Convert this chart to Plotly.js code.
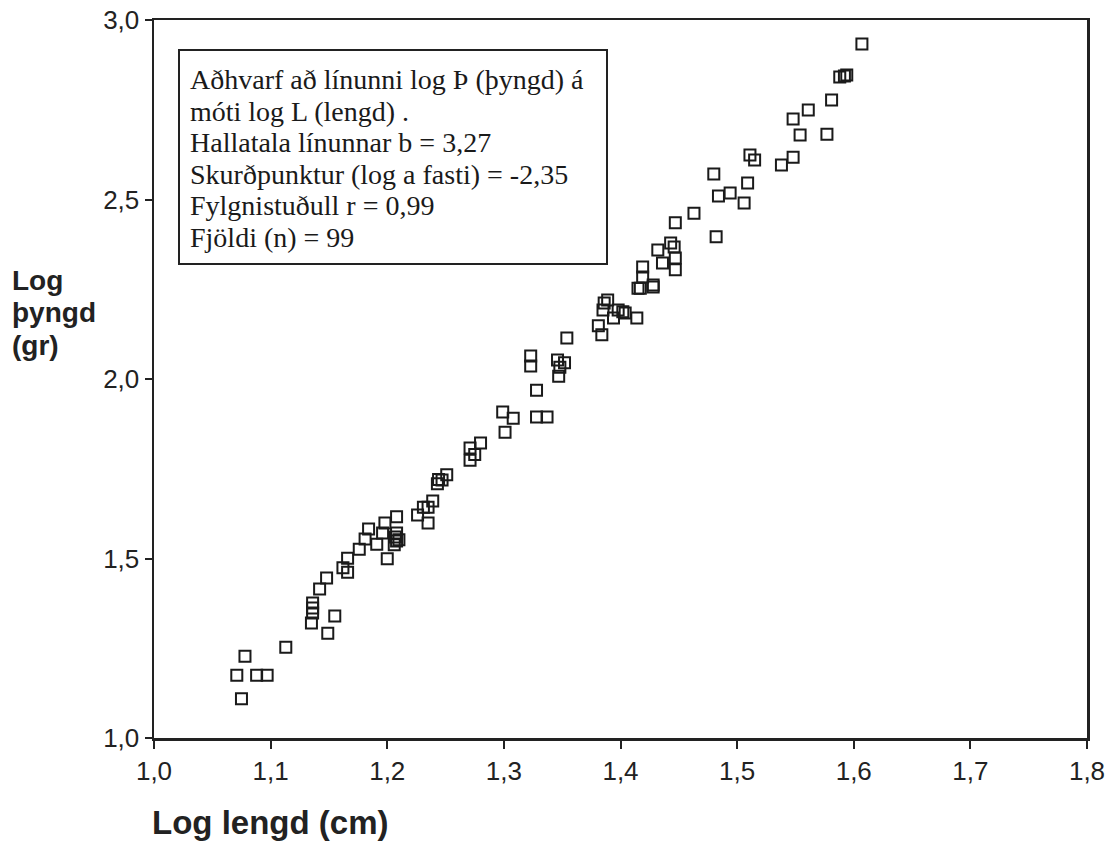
<!DOCTYPE html>
<html>
<head>
<meta charset="utf-8">
<script src="https://cdn.plot.ly/plotly-3.0.1.min.js"></script>
<style>html,body{margin:0;padding:0;background:#fff;}#chart{width:1111px;height:854px;}</style>
</head>
<body>
<div id="chart"></div>
<script>
// Log lengd (cm)
const logLength = [
  1.071,1.078,1.075,1.088,1.097,1.113,1.135,1.136,1.136,1.149,
  1.155,1.142,1.148,1.162,1.166,1.166,1.176,1.181,1.184,1.191,
  1.196,1.198,1.200,1.207,1.208,1.208,1.208,1.226,1.235,1.231,
  1.235,1.247,1.251,1.243,1.271,1.271,1.280,1.301,1.308,1.299,
  1.328,1.337,1.328,1.323,1.323,1.347,1.348,1.346,1.352,1.354,
  1.384,1.381,1.385,1.389,1.394,1.398,1.404,1.414,1.417,1.428,
  1.402,1.386,1.419,1.419,1.415,1.428,1.432,1.436,1.443,1.446,
  1.447,1.447,1.447,1.463,1.482,1.480,1.484,1.494,1.506,1.509,
  1.511,1.515,1.538,1.548,1.554,1.577,1.548,1.561,1.581,1.588,
  1.594,1.607,1.592,1.136,1.244,1.210,1.206,1.239,1.275
];
// Log þyngd (gr)
const logWeight = [
  1.175,1.228,1.109,1.175,1.175,1.253,1.320,1.362,1.376,1.292,
  1.340,1.415,1.446,1.474,1.462,1.501,1.526,1.554,1.582,1.540,
  1.571,1.599,1.499,1.560,1.571,1.549,1.616,1.621,1.643,1.643,
  1.599,1.719,1.733,1.708,1.774,1.808,1.822,1.852,1.891,1.908,
  1.894,1.894,1.969,2.036,2.064,2.008,2.033,2.053,2.045,2.114,
  2.123,2.148,2.192,2.220,2.170,2.192,2.184,2.170,2.253,2.256,
  2.187,2.212,2.312,2.284,2.253,2.262,2.359,2.323,2.379,2.368,
  2.337,2.304,2.435,2.462,2.396,2.571,2.510,2.518,2.490,2.546,
  2.624,2.610,2.596,2.618,2.680,2.682,2.724,2.749,2.777,2.841,
  2.847,2.933,2.844,1.348,1.720,1.552,1.538,1.660,1.790
];
const xTicks = [1.0,1.1,1.2,1.3,1.4,1.5,1.6,1.7,1.8];
const yTicks = [1.0,1.5,2.0,2.5,3.0];
const statLines = [
  "Aðhvarf að línunni log Þ (þyngd) á",
  "móti log L (lengd) .",
  "Hallatala línunnar b = 3,27",
  "Skurðpunktur (log a fasti) = -2,35",
  "Fylgnistuðull r = 0,99",
  "Fjöldi (n) = 99"
];
const yTitleLines = ["Log", "þyngd", "(gr)"];
const xTitle = "Log lengd (cm)";

const fmt = v => v.toFixed(1).replace('.', ',');

// plot area geometry (pixels)
const L = 154, R = 1087, T = 20, B = 738;
const px = x => (x - L) / (R - L);
const py = y => (B - y) / (B - T);

const trace = {
  x: logLength, y: logWeight, type: 'scatter', mode: 'markers',
  marker: {symbol: 'square-open', size: 11, color: '#1a1a1a', line: {width: 2, color: '#1a1a1a'}},
  hoverinfo: 'x+y'
};

const sans = 'Liberation Sans, Arial, sans-serif';
const axisFont = {family: sans, size: 26, color: '#222'};

const annotations = [];
yTitleLines.forEach((t, i) => annotations.push({
  xref: 'paper', yref: 'paper', x: px(10), y: py(281 + i * 32),
  xanchor: 'left', yanchor: 'middle', align: 'left', showarrow: false,
  text: '<b>' + t + '</b>', font: {family: sans, size: 28, color: '#222'}
}));
annotations.push({
  xref: 'paper', yref: 'paper', x: px(150), y: py(822),
  xanchor: 'left', yanchor: 'middle', align: 'left', showarrow: false,
  text: '<b>' + xTitle + '</b>', font: {family: sans, size: 33, color: '#222'}
});
statLines.forEach((t, i) => annotations.push({
  xref: 'paper', yref: 'paper', x: px(188), y: py(80 + i * 31.5),
  xanchor: 'left', yanchor: 'middle', align: 'left', showarrow: false,
  text: t, font: {family: 'Liberation Serif, Times New Roman, serif', size: 28, color: '#1a1a1a'}
}));

const layout = {
  width: 1111, height: 854,
  margin: {l: L, r: 1111 - R, t: T, b: 854 - B},
  paper_bgcolor: '#fff', plot_bgcolor: '#fff',
  showlegend: false,
  xaxis: {
    range: [1.0, 1.8], tickvals: xTicks, ticktext: xTicks.map(fmt),
    ticks: 'outside', ticklen: 8, tickwidth: 2, tickcolor: '#222',
    showline: true, linewidth: 2.5, linecolor: '#222', mirror: true,
    showgrid: false, zeroline: false, tickfont: axisFont
  },
  yaxis: {
    range: [1.0, 3.0], tickvals: yTicks, ticktext: yTicks.map(fmt),
    ticks: 'outside', ticklen: 7, tickwidth: 2, tickcolor: '#222',
    showline: true, linewidth: 2.5, linecolor: '#222', mirror: true,
    showgrid: false, zeroline: false, tickfont: axisFont
  },
  shapes: [{
    type: 'rect', xref: 'paper', yref: 'paper',
    x0: px(179), x1: px(607), y0: py(264), y1: py(50),
    line: {color: '#222', width: 2}, fillcolor: '#fff', layer: 'below'
  }],
  annotations: annotations
};

Plotly.newPlot('chart', [trace], layout, {displayModeBar: false, staticPlot: true});
</script>
</body>
</html>
